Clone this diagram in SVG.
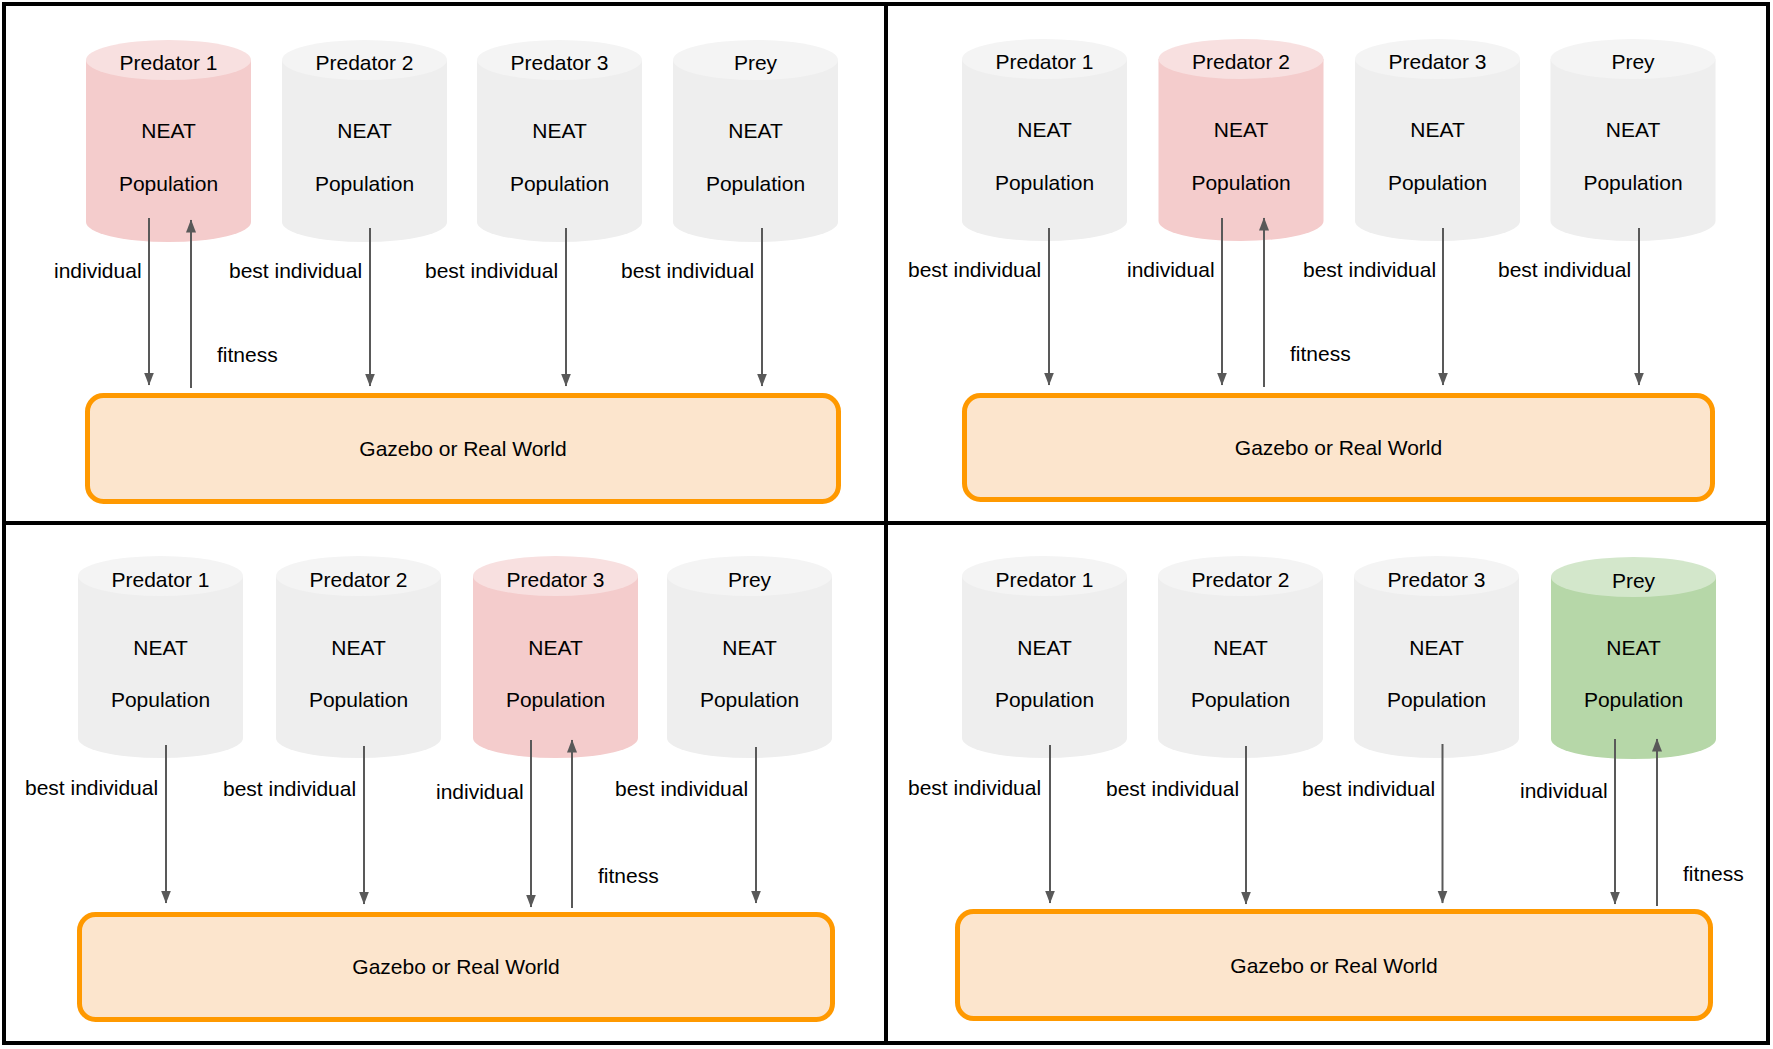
<svg xmlns="http://www.w3.org/2000/svg" xmlns:xlink="http://www.w3.org/1999/xlink" width="1773" height="1049" viewBox="0 0 1773 1049">
<style>
text{font-family:"Liberation Sans",Arial,sans-serif;font-size:21px;fill:#000}
.c{text-anchor:middle}
.grey{fill:#EEEEEE;color:#F4F4F4}
.pink{fill:#F4CCCC;color:#F8E0E0}
.green{fill:#B6D7A8;color:#D3E7CB}
.world{fill:#FCE5CD;stroke:#FF9900;stroke-width:5}
.arr{stroke:#595959;stroke-width:2;fill:none;marker-end:url(#ah)}
.frame{fill:none;stroke:#000;stroke-width:4}
</style>
<defs>
<marker id="ah" markerUnits="userSpaceOnUse" markerWidth="14" markerHeight="11" refX="12.5" refY="5" orient="auto">
<path d="M0,0 L13,5 L0,10 Z" fill="#595959"/>
</marker>
<g id="cyl">
<path d="M0,20 V182 A82.5,20 0 0 0 165,182 V20 Z"/>
<ellipse cx="82.5" cy="20" rx="82.5" ry="20" fill="currentColor"/>
</g>
</defs>
<rect width="1773" height="1049" fill="#fff"/>
<g id="frame">
<rect class="frame" x="4" y="4" width="1764" height="1039"/>
<line class="frame" x1="886" y1="4" x2="886" y2="1043"/>
<line class="frame" x1="4" y1="523" x2="1768" y2="523"/>
</g>

<!-- Top-left panel -->
<g id="tl-pred1"><use xlink:href="#cyl" x="86" y="40" class="pink"/><text class="c" x="168.5" y="70">Predator 1</text><text class="c" x="168.5" y="138">NEAT</text><text class="c" x="168.5" y="191">Population</text></g>
<g id="tl-pred2"><use xlink:href="#cyl" x="282" y="40" class="grey"/><text class="c" x="364.5" y="70">Predator 2</text><text class="c" x="364.5" y="138">NEAT</text><text class="c" x="364.5" y="191">Population</text></g>
<g id="tl-pred3"><use xlink:href="#cyl" x="477" y="40" class="grey"/><text class="c" x="559.5" y="70">Predator 3</text><text class="c" x="559.5" y="138">NEAT</text><text class="c" x="559.5" y="191">Population</text></g>
<g id="tl-prey"><use xlink:href="#cyl" x="673" y="40" class="grey"/><text class="c" x="755.5" y="70">Prey</text><text class="c" x="755.5" y="138">NEAT</text><text class="c" x="755.5" y="191">Population</text></g>
<g id="tl-world"><rect class="world" x="87.5" y="395.5" width="751" height="106" rx="16"/><text class="c" x="463" y="456">Gazebo or Real World</text></g>

<!-- Top-right panel -->
<g id="tr-pred1"><use xlink:href="#cyl" x="962" y="39" class="grey"/><text class="c" x="1044.5" y="69">Predator 1</text><text class="c" x="1044.5" y="137">NEAT</text><text class="c" x="1044.5" y="190">Population</text></g>
<g id="tr-pred2"><use xlink:href="#cyl" x="1158.5" y="39" class="pink"/><text class="c" x="1241" y="69">Predator 2</text><text class="c" x="1241" y="137">NEAT</text><text class="c" x="1241" y="190">Population</text></g>
<g id="tr-pred3"><use xlink:href="#cyl" x="1355" y="39" class="grey"/><text class="c" x="1437.5" y="69">Predator 3</text><text class="c" x="1437.5" y="137">NEAT</text><text class="c" x="1437.5" y="190">Population</text></g>
<g id="tr-prey"><use xlink:href="#cyl" x="1550.5" y="39" class="grey"/><text class="c" x="1633" y="69">Prey</text><text class="c" x="1633" y="137">NEAT</text><text class="c" x="1633" y="190">Population</text></g>
<g id="tr-world"><rect class="world" x="964.5" y="395.5" width="748" height="104" rx="16"/><text class="c" x="1338.5" y="455">Gazebo or Real World</text></g>

<!-- Bottom-left panel -->
<g id="bl-pred1"><use xlink:href="#cyl" x="78" y="556" class="grey"/><text class="c" x="160.5" y="587">Predator 1</text><text class="c" x="160.5" y="655">NEAT</text><text class="c" x="160.5" y="707">Population</text></g>
<g id="bl-pred2"><use xlink:href="#cyl" x="276" y="556" class="grey"/><text class="c" x="358.5" y="587">Predator 2</text><text class="c" x="358.5" y="655">NEAT</text><text class="c" x="358.5" y="707">Population</text></g>
<g id="bl-pred3"><use xlink:href="#cyl" x="473" y="556" class="pink"/><text class="c" x="555.5" y="587">Predator 3</text><text class="c" x="555.5" y="655">NEAT</text><text class="c" x="555.5" y="707">Population</text></g>
<g id="bl-prey"><use xlink:href="#cyl" x="667" y="556" class="grey"/><text class="c" x="749.5" y="587">Prey</text><text class="c" x="749.5" y="655">NEAT</text><text class="c" x="749.5" y="707">Population</text></g>
<g id="bl-world"><rect class="world" x="79.5" y="914.5" width="753" height="105" rx="16"/><text class="c" x="456" y="974">Gazebo or Real World</text></g>

<!-- Bottom-right panel -->
<g id="br-pred1"><use xlink:href="#cyl" x="962" y="556" class="grey"/><text class="c" x="1044.5" y="587">Predator 1</text><text class="c" x="1044.5" y="655">NEAT</text><text class="c" x="1044.5" y="707">Population</text></g>
<g id="br-pred2"><use xlink:href="#cyl" x="1158" y="556" class="grey"/><text class="c" x="1240.5" y="587">Predator 2</text><text class="c" x="1240.5" y="655">NEAT</text><text class="c" x="1240.5" y="707">Population</text></g>
<g id="br-pred3"><use xlink:href="#cyl" x="1354" y="556" class="grey"/><text class="c" x="1436.5" y="587">Predator 3</text><text class="c" x="1436.5" y="655">NEAT</text><text class="c" x="1436.5" y="707">Population</text></g>
<g id="br-prey"><use xlink:href="#cyl" x="1551" y="557" class="green"/><text class="c" x="1633.5" y="588">Prey</text><text class="c" x="1633.5" y="655">NEAT</text><text class="c" x="1633.5" y="707">Population</text></g>
<g id="br-world"><rect class="world" x="957.5" y="911.5" width="753" height="107" rx="16"/><text class="c" x="1334" y="973">Gazebo or Real World</text></g>

<g id="connectors">
<!-- TL -->
<line class="arr" x1="149" y1="218" x2="149" y2="385"/>
<line class="arr" x1="191" y1="388" x2="191" y2="220"/>
<line class="arr" x1="370" y1="228" x2="370" y2="386"/>
<line class="arr" x1="566" y1="228" x2="566" y2="386"/>
<line class="arr" x1="762" y1="228" x2="762" y2="386"/>
<!-- TR -->
<line class="arr" x1="1049" y1="228" x2="1049" y2="385"/>
<line class="arr" x1="1222" y1="218" x2="1222" y2="385"/>
<line class="arr" x1="1264" y1="387" x2="1264" y2="218"/>
<line class="arr" x1="1443" y1="228" x2="1443" y2="385"/>
<line class="arr" x1="1639" y1="228" x2="1639" y2="385"/>
<!-- BL -->
<line class="arr" x1="166" y1="745" x2="166" y2="903"/>
<line class="arr" x1="364" y1="746" x2="364" y2="904"/>
<line class="arr" x1="531" y1="740" x2="531" y2="907"/>
<line class="arr" x1="572" y1="908" x2="572" y2="740"/>
<line class="arr" x1="756" y1="747" x2="756" y2="903"/>
<!-- BR -->
<line class="arr" x1="1050" y1="745" x2="1050" y2="903"/>
<line class="arr" x1="1246" y1="746" x2="1246" y2="904"/>
<line class="arr" x1="1442.5" y1="744" x2="1442.5" y2="903"/>
<line class="arr" x1="1615" y1="739" x2="1615" y2="904"/>
<line class="arr" x1="1657" y1="906" x2="1657" y2="739"/>
</g>

<g id="labels">
<text x="54" y="278">individual</text>
<text x="229" y="278">best individual</text>
<text x="425" y="278">best individual</text>
<text x="621" y="278">best individual</text>
<text x="217" y="362">fitness</text>

<text x="908" y="277">best individual</text>
<text x="1127" y="277">individual</text>
<text x="1303" y="277">best individual</text>
<text x="1498" y="277">best individual</text>
<text x="1290" y="361">fitness</text>

<text x="25" y="795">best individual</text>
<text x="223" y="796">best individual</text>
<text x="436" y="799">individual</text>
<text x="615" y="796">best individual</text>
<text x="598" y="883">fitness</text>

<text x="908" y="795">best individual</text>
<text x="1106" y="796">best individual</text>
<text x="1302" y="796">best individual</text>
<text x="1520" y="798">individual</text>
<text x="1683" y="881">fitness</text>
</g>
</svg>
